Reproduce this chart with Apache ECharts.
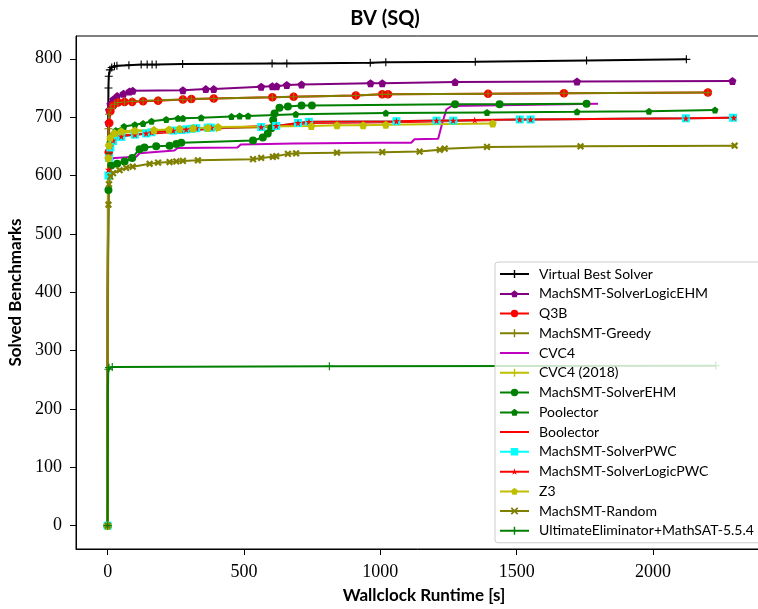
<!DOCTYPE html>
<html>
<head>
<meta charset="utf-8">
<title>BV (SQ)</title>
<script src="https://cdn.jsdelivr.net/npm/echarts@6/dist/echarts.min.js"></script>
<style>
  html, body { margin: 0; padding: 0; background: #fff; }
  #chart { width: 758px; height: 609px; }
</style>
</head>
<body>
<div id="chart"></div>
<script>
// cactus plot: [runtime (s), solved benchmarks]
const xTicks = [0, 500, 1000, 1500, 2000]
const yTicks = [0, 100, 200, 300, 400, 500, 600, 700, 800]

const vbs = [[0,0],[0.5,300],[1,550],[2,700],[3,750],[4,770],[8,781],[15,785],[25,787],[34,788],[78,789],[123,790],[145,790],[163,790],[178,790],[275,791],[603,792],[657,792],[963,793],[1020,794],[1348,795],[1756,797],[2122,799]]
const logicEhm = [[0,0],[0.5,250],[1,450],[2,620],[3,690],[5,712],[10,722],[20,730],[35,736],[58,740],[80,744],[92,745],[276,746],[360,748],[389,748],[563,752],[604,753],[620,753],[657,755],[711,756],[964,758],[1007,758],[1274,760],[1721,761],[2291,762]]
const q3b = [[0,0],[0.5,200],[1,400],[2,550],[4,640],[6,690],[10,710],[20,720],[38,725],[62,726],[90,726],[130,727],[185,728],[276,730],[307,731],[389,732],[604,734],[682,735],[910,737],[1007,739],[1028,739],[1395,740],[1673,741],[2201,742]]
const greedy = [[0,0],[0.5,250],[1,450],[2,620],[3,680],[5,705],[12,715],[25,722],[38,725],[62,726],[90,727],[130,728],[185,729],[276,730],[307,731],[389,732],[604,734],[682,735],[910,737],[1007,739],[1028,739],[1395,740],[1673,741],[2201,742]]
const cvc4 = [[0,0],[0.5,200],[1,400],[2,560],[3,610],[5,625],[25,630],[105,632],[117,638],[245,643],[257,647],[476,648],[488,653],[683,655],[998,656],[1113,656],[1125,662],[1212,663],[1227,690],[1242,713],[1261,719],[1798,723]]
const cvc4_2018 = [[0,0],[0.5,250],[1,450],[2,580],[3,630],[5,650],[10,662],[25,669],[50,673],[100,675],[170,677],[260,679],[400,681],[600,683]]
const solverEhm = [[0,0],[0.5,200],[1,400],[2,520],[3,575],[5,600],[13,617],[35,620],[62,624],[90,630],[117,645],[135,648],[178,650],[227,651],[252,654],[270,656],[533,660],[569,665],[587,672],[600,681],[607,695],[612,706],[630,716],[661,718],[711,720],[749,720],[1274,722],[1437,722],[1756,723]]
const poolector = [[0,0],[0.5,250],[1,450],[2,580],[4,635],[8,656],[15,668],[30,677],[60,684],[100,687],[130,689],[161,693],[215,696],[258,698],[276,698],[343,699],[454,701],[484,702],[515,702],[690,705],[1020,707],[1391,708],[1721,709],[1985,710],[2227,712]]
const boolector = [[0,0],[0.5,250],[1,450],[2,580],[3,630],[5,650],[10,661],[30,668],[138,671],[257,675],[379,680],[563,685],[686,687],[740,690],[950,691],[1150,692],[1346,694],[1551,696],[2120,698],[2296,699]]
const solverPwc = [[0,0],[0.5,200],[1,400],[2,540],[3,600],[5,630],[10,648],[20,659],[50,666],[100,670],[141,672],[161,674],[240,677],[270,678],[288,679],[307,680],[325,681],[367,682],[380,682],[563,683],[618,685],[698,690],[738,692],[1059,693],[1206,694],[1267,694],[1511,696],[1551,696],[2120,698],[2293,699]]
const logicPwc = [[0,0],[0.5,220],[1,420],[2,560],[3,610],[5,635],[10,650],[20,660],[50,667],[100,670],[141,672],[161,674],[240,677],[270,678],[288,679],[307,680],[325,681],[367,682],[380,682],[563,683],[618,685],[698,690],[738,692],[1059,693],[1206,694],[1267,694],[1346,695],[1511,696],[1551,696],[2120,698],[2296,699]]
const z3 = [[0,0],[0.5,250],[1,450],[2,580],[3,630],[5,652],[10,665],[25,673],[50,676],[100,677],[170,678],[225,679],[264,680],[313,681],[367,682],[405,683],[747,685],[841,686],[937,686],[1020,687],[1412,689]]
const random = [[0,0],[0.5,150],[1,300],[2,470],[3,550],[5,585],[10,598],[20,604],[44,609],[68,613],[92,615],[154,620],[185,622],[227,623],[252,624],[276,625],[331,626],[533,628],[563,630],[606,632],[618,633],[661,637],[691,638],[841,639],[1007,640],[1144,641],[1218,644],[1236,646],[1391,649],[1734,650],[2299,651]]
const ultimate = [[0,0],[0.3,100],[0.6,180],[1,230],[2,260],[3,268],[5,271],[17,272],[813,273],[2230,274]]

// marker shapes (matplotlib-ish), drawn in a 10x10 box
const PLUS = 'path://M4.3,0H5.7V10H4.3ZM0,4.3H10V5.7H0Z'
const XMARK = 'path://M3.6,0H6.4V10H3.6ZM0,3.6H10V6.4H0Z'
const PENT = 'path://M5,0L10,3.6L8.1,9.5L1.9,9.5L0,3.6Z'
const STAR = 'path://M5,0L6.2,3.6L10,3.6L6.9,5.9L8.1,9.5L5,7.3L1.9,9.5L3.1,5.9L0,3.6L3.8,3.6Z'

// legend handles: a 29px line with a small marker in the middle
const L = 'M0,6H29V8H0Z'
const LEG = {
  none: 'path://' + L,
  plus: 'path://' + L + 'M10.5,6.3H18.5V7.7H10.5ZM13.8,3H15.2V11H13.8Z',
  circle: 'path://' + L + 'M18.2,7A3.7,3.7,0,1,1,10.8,7A3.7,3.7,0,1,1,18.2,7Z',
  pent: 'path://' + L + 'M14.5,3.4L18,6L16.7,10.2L12.3,10.2L11,6Z',
  rect: 'path://' + L + 'M10.8,3.3H18.2V10.7H10.8Z',
  star: 'path://' + L + 'M14.5,3.6L15.3,6.1L18,6.1L15.8,7.6L16.6,10.1L14.5,8.6L12.4,10.1L13.2,7.6L11,6.1L13.7,6.1Z',
  x: 'path://' + L + 'M11.9,3.2L18.3,9.6L17.1,10.8L10.7,4.4ZM17.1,3.2L18.3,4.4L11.9,10.8L10.7,9.6Z'
}

const solvers = [
  { name: 'Virtual Best Solver', data: vbs, color: '#000000', symbol: PLUS, size: 8, leg: 'plus' },
  { name: 'MachSMT-SolverLogicEHM', data: logicEhm, color: '#800080', symbol: PENT, size: 8, leg: 'pent' },
  { name: 'Q3B', data: q3b, color: '#ff0000', symbol: 'circle', size: 8.5, leg: 'circle' },
  { name: 'MachSMT-Greedy', data: greedy, color: '#808000', symbol: PLUS, size: 8, leg: 'plus' },
  { name: 'CVC4', data: cvc4, color: '#bf00bf', symbol: 'none', size: 0, leg: 'none' },
  { name: 'CVC4 (2018)', data: cvc4_2018, color: '#bfbf00', symbol: PLUS, size: 8, leg: 'plus' },
  { name: 'MachSMT-SolverEHM', data: solverEhm, color: '#008000', symbol: 'circle', size: 8, leg: 'circle' },
  { name: 'Poolector', data: poolector, color: '#008000', symbol: PENT, size: 7, leg: 'pent' },
  { name: 'Boolector', data: boolector, color: '#ff0000', symbol: 'none', size: 0, leg: 'none' },
  { name: 'MachSMT-SolverPWC', data: solverPwc, color: '#00ffff', symbol: 'rect', size: 8, leg: 'rect' },
  { name: 'MachSMT-SolverLogicPWC', data: logicPwc, color: '#ff0000', symbol: STAR, size: 7, leg: 'star' },
  { name: 'Z3', data: z3, color: '#bfbf00', symbol: PENT, size: 8, leg: 'pent' },
  { name: 'MachSMT-Random', data: random, color: '#808000', symbol: XMARK, size: 8, rotate: 45, leg: 'x' },
  { name: 'UltimateEliminator+MathSAT-5.5.4', data: ultimate, color: '#008000', symbol: PLUS, size: 8, leg: 'plus' }
]

// markers on the near-vertical start (0 < t < 3 s) would pile up; keep them off there
function toItems(pts) {
  return pts.map(p => (p[0] > 0 && p[0] < 3) ? { value: p, symbol: 'none' } : p)
}

const chart = echarts.init(document.getElementById('chart'), null, { renderer: 'canvas' })

const serif = '"Liberation Serif", serif'
const sans = 'Lato, "Open Sans", "DejaVu Sans", sans-serif'

chart.setOption({
  animation: false,
  backgroundColor: '#ffffff',
  title: {
    text: 'BV (SQ)',
    left: 380,
    top: 4,
    textAlign: 'center',
    textStyle: { fontFamily: sans, fontWeight: 'bold', fontSize: 20, color: '#000' }
  },
  grid: {
    left: 76, right: -14, top: 36, bottom: 60,
    outerBoundsMode: 'none',
    containLabel: false,
    show: true, borderColor: '#000', borderWidth: 1
  },
  xAxis: {
    type: 'value',
    min: -116,
    max: 2436,
    name: 'Wallclock Runtime [s]',
    nameLocation: 'middle',
    nameGap: 38,
    nameTextStyle: { fontFamily: sans, fontWeight: 'bold', fontSize: 17, color: '#000' },
    axisLine: { show: true, onZero: false, lineStyle: { color: '#000', width: 1 } },
    axisTick: { show: true, length: 6, customValues: xTicks, lineStyle: { color: '#000' } },
    axisLabel: {
      customValues: xTicks, margin: 14, fontFamily: serif, fontSize: 18, color: '#000',
      formatter: v => String(v)
    },
    splitLine: { show: false }
  },
  yAxis: {
    type: 'value',
    min: -40,
    max: 839,
    name: 'Solved Benchmarks',
    nameLocation: 'middle',
    nameGap: 50,
    nameTextStyle: { fontFamily: sans, fontWeight: 'bold', fontSize: 17, color: '#000' },
    axisLine: { show: true, onZero: false, lineStyle: { color: '#000', width: 1 } },
    axisTick: { show: true, length: 6, customValues: yTicks, lineStyle: { color: '#000' } },
    axisLabel: {
      customValues: yTicks, margin: 14, fontFamily: serif, fontSize: 18, color: '#000',
      formatter: v => String(v)
    },
    splitLine: { show: false }
  },
  legend: {
    orient: 'vertical',
    left: 495,
    top: 262,
    itemWidth: 29,
    itemHeight: 14,
    itemGap: 5.75,
    padding: [5, 20, 5, 5],
    backgroundColor: 'rgba(255,255,255,0.8)',
    borderColor: '#cccccc',
    borderWidth: 1,
    borderRadius: 3,
    textStyle: { fontFamily: sans, fontSize: 14, color: '#000', padding: [0, 0, 0, 5] },
    data: solvers.map(s => ({ name: s.name, icon: LEG[s.leg] }))
  },
  series: solvers.map(s => ({
    name: s.name,
    type: 'line',
    data: toItems(s.data),
    symbol: s.symbol,
    symbolSize: s.size,
    symbolRotate: s.rotate || 0,
    showSymbol: s.symbol !== 'none',
    showAllSymbol: true,
    lineStyle: { color: s.color, width: 2 },
    itemStyle: { color: s.color },
    emphasis: { disabled: true }
  }))
})
</script>
</body>
</html>
